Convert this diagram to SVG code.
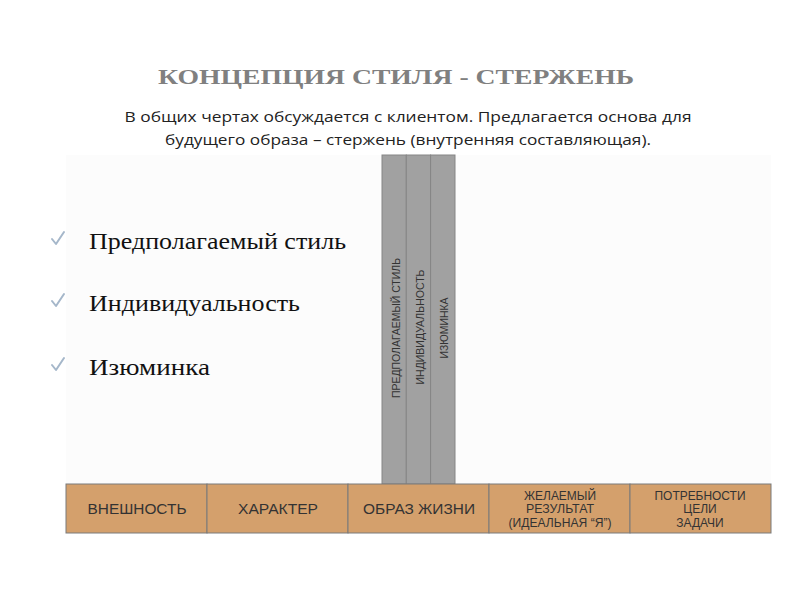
<svg xmlns="http://www.w3.org/2000/svg" width="800" height="600" viewBox="0 0 800 600">
<style>
.title{font-family:"Liberation Serif",serif;font-size:22px;font-weight:bold;fill:#808080}
.sub{font-family:"Open Sans","Liberation Sans",sans-serif;font-size:15px;fill:#222}
.bul{font-family:"Liberation Serif",serif;font-size:23px;fill:#111}
.chk{fill:none;stroke:#a5b7ca;stroke-width:2;stroke-linecap:round;stroke-linejoin:round}
.col{fill:#a1a1a1;stroke:#858585;stroke-width:1}
.cell{fill:#d4a06c;stroke:#7a7a7a;stroke-width:1}
.vt{font-family:"Liberation Sans",sans-serif;font-size:10.5px;fill:#333}
.ct{font-family:"Liberation Sans",sans-serif;font-size:15px;fill:#333;text-anchor:middle}
.cs{font-family:"Liberation Sans",sans-serif;font-size:12px;fill:#333;text-anchor:middle}
</style>
<rect width="800" height="600" fill="#ffffff"/>
<rect x="66" y="155" width="705" height="330" fill="#fcfcfc"/>
<text class="title" x="396" y="84" text-anchor="middle" textLength="476" lengthAdjust="spacingAndGlyphs">КОНЦЕПЦИЯ СТИЛЯ - СТЕРЖЕНЬ</text>
<text class="sub" x="408" y="122" text-anchor="middle" textLength="567" lengthAdjust="spacingAndGlyphs">В общих чертах обсуждается с клиентом. Предлагается основа для</text>
<text class="sub" x="408" y="145" text-anchor="middle" textLength="486" lengthAdjust="spacingAndGlyphs">будущего образа – стержень (внутренняя составляющая).</text>
<g id="bullets">
<path class="chk" d="M52 239 L56 244 L64 232"/>
<text class="bul" x="89" y="249" textLength="257" lengthAdjust="spacingAndGlyphs">Предполагаемый стиль</text>
<path class="chk" d="M52 301 L56 306 L64 294"/>
<text class="bul" x="89" y="311" textLength="211" lengthAdjust="spacingAndGlyphs">Индивидуальность</text>
<path class="chk" d="M52 365 L56 370 L64 358"/>
<text class="bul" x="89" y="375" textLength="121" lengthAdjust="spacingAndGlyphs">Изюминка</text>
</g>
<g id="col1"><rect class="col" x="382" y="155" width="24.3" height="329"/><text class="vt" transform="translate(399.5,328) rotate(-90)" text-anchor="middle" textLength="140" lengthAdjust="spacingAndGlyphs">ПРЕДПОЛАГАЕМЫЙ СТИЛЬ</text></g>
<g id="col2"><rect class="col" x="406.3" y="155" width="24.3" height="329"/><text class="vt" transform="translate(423.5,327) rotate(-90)" text-anchor="middle" textLength="115" lengthAdjust="spacingAndGlyphs">ИНДИВИДУАЛЬНОСТЬ</text></g>
<g id="col3"><rect class="col" x="430.6" y="155" width="24.4" height="329"/><text class="vt" transform="translate(447.5,328) rotate(-90)" text-anchor="middle" textLength="61" lengthAdjust="spacingAndGlyphs">ИЗЮМИНКА</text></g>
<g id="cell1"><rect class="cell" x="66" y="484" width="141" height="49"/><text class="ct" x="137" y="514" textLength="99" lengthAdjust="spacingAndGlyphs">ВНЕШНОСТЬ</text></g>
<g id="cell2"><rect class="cell" x="207" y="484" width="141" height="49"/><text class="ct" x="278" y="514" textLength="80" lengthAdjust="spacingAndGlyphs">ХАРАКТЕР</text></g>
<g id="cell3"><rect class="cell" x="348" y="484" width="141" height="49"/><text class="ct" x="419" y="514" textLength="112" lengthAdjust="spacingAndGlyphs">ОБРАЗ ЖИЗНИ</text></g>
<g id="cell4"><rect class="cell" x="489" y="484" width="141" height="49"/><text class="cs" x="560" y="500" textLength="72" lengthAdjust="spacingAndGlyphs">ЖЕЛАЕМЫЙ</text><text class="cs" x="560" y="513" textLength="68" lengthAdjust="spacingAndGlyphs">РЕЗУЛЬТАТ</text><text class="cs" x="560" y="527" textLength="103" lengthAdjust="spacingAndGlyphs">(ИДЕАЛЬНАЯ “Я”)</text></g>
<g id="cell5"><rect class="cell" x="630" y="484" width="141" height="49"/><text class="cs" x="700" y="500" textLength="91" lengthAdjust="spacingAndGlyphs">ПОТРЕБНОСТИ</text><text class="cs" x="700" y="513">ЦЕЛИ</text><text class="cs" x="700" y="527">ЗАДАЧИ</text></g>
<g id="connectors"></g>
</svg>
